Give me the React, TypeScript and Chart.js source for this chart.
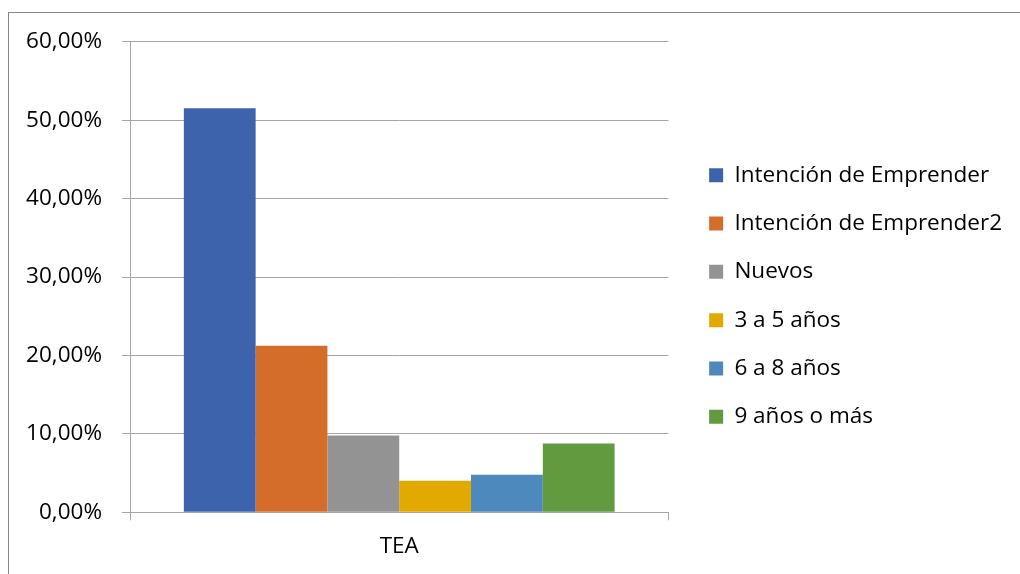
import React, { useEffect, useRef } from 'react';
import { Chart, registerables } from 'chart.js';

Chart.register(...registerables);

const categories = ['TEA'];
const seriesNames = [
  'Intención de Emprender',
  'Intención de Emprender2',
  'Nuevos',
  '3 a 5 años',
  '6 a 8 años',
  '9 años o más',
];
const seriesValues = [0.5153, 0.2125, 0.0978, 0.0401, 0.0478, 0.0876];
const seriesColors = ['#3C63AB', '#D46D2A', '#939393', '#E2AA00', '#4E89BD', '#629A3F'];
const yMin = 0;
const yMax = 0.6;
const yStep = 0.1;

const FONT = "'Open Sans', 'DejaVu Sans', sans-serif";
const FONT_SIZE = 22.5;
const GRID = '#a6a6a6';

function formatPct(v: number): string {
  return (v * 100).toFixed(2).replace('.', ',') + '%';
}

export default function App() {
  const ref = useRef<HTMLCanvasElement | null>(null);

  useEffect(() => {
    if (!ref.current) return;
    const chart = new Chart(ref.current, {
      type: 'bar',
      data: {
        labels: categories,
        datasets: seriesNames.map((name, i) => ({
          label: name,
          data: [seriesValues[i]],
          backgroundColor: seriesColors[i],
          borderWidth: 0,
          categoryPercentage: 0.8,
          barPercentage: 1.0,
        })),
      },
      options: {
        animation: false,
        responsive: false,
        devicePixelRatio: 1,
        font: { family: FONT, size: FONT_SIZE },
        layout: { padding: { left: 0, top: 11.7, right: 8, bottom: 1.7 } },
        plugins: {
          tooltip: { enabled: false },
          title: { display: false },
          legend: {
            display: true,
            position: 'right',
            align: 'center',
            maxWidth: 420,
            labels: {
              boxWidth: 14,
              boxHeight: 14,
              padding: 25.8,
              color: '#000',
              font: { family: FONT, size: FONT_SIZE },
            },
          },
        },
        scales: {
          x: {
            type: 'category',
            offset: true,
            grid: {
              display: true,
              drawOnChartArea: false,
              drawTicks: true,
              tickLength: 8,
              color: GRID,
              offset: true,
            },
            border: { display: true, color: GRID },
            ticks: { color: '#000', padding: 12.5, font: { family: FONT, size: FONT_SIZE } },
          },
          xTopSpacer: {
            type: 'linear',
            position: 'top',
            display: true,
            grid: { display: false },
            border: { display: false },
            ticks: { display: false },
            afterFit: (s: any) => {
              s.height = 22;
            },
          },
          y: {
            type: 'linear',
            min: yMin,
            max: yMax,
            grid: { color: GRID, drawTicks: true, tickLength: 8 },
            border: { display: true, color: GRID },
            ticks: {
              stepSize: yStep,
              color: '#000',
              padding: 20,
              font: { family: FONT, size: FONT_SIZE },
              callback: (v: any) => formatPct(Number(v)),
            },
            afterFit: (s: any) => {
              s.width = 121;
            },
          },
          yRightSpacer: {
            type: 'linear',
            position: 'right',
            display: true,
            grid: { display: false },
            border: { display: false },
            ticks: { display: false },
            afterFit: (s: any) => {
              s.width = 14.9;
            },
          },
        },
      },
    } as any);
    return () => chart.destroy();
  }, []);

  return (
    <>
      <div
        style={{
          position: 'absolute',
          left: 8,
          top: 12,
          width: 1012,
          height: 562,
          borderTop: '1px solid #878787',
          borderLeft: '1px solid #878787',
          background: '#fff',
        }}
      />
      <canvas
        ref={ref}
        width={1011}
        height={566}
        style={{ position: 'absolute', left: 9, top: 8, display: 'block', width: 1011, height: 566 }}
      />
    </>
  );
}
